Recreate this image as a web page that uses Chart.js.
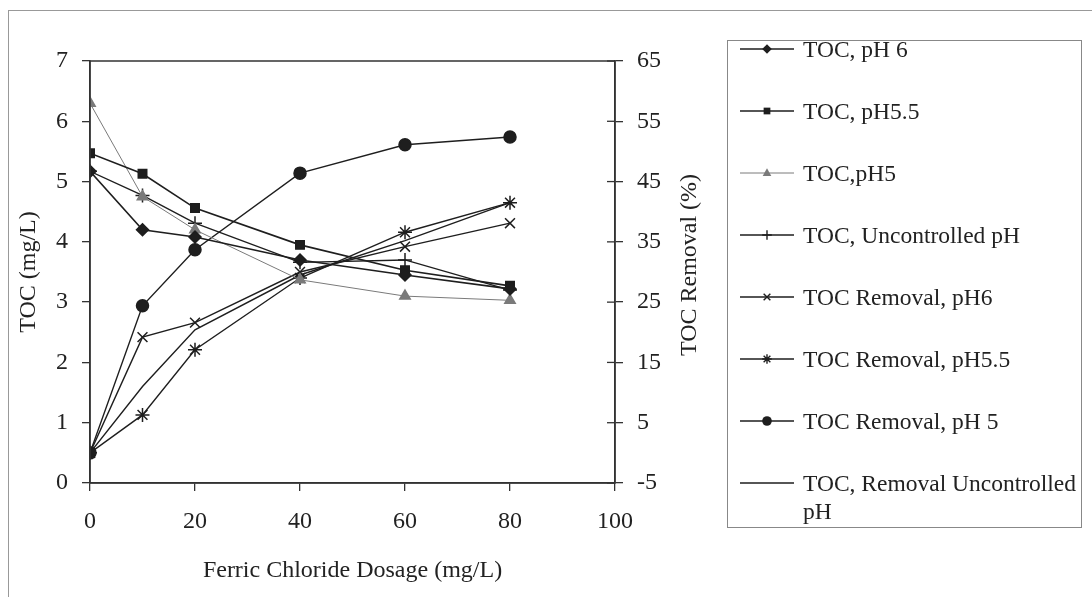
<!DOCTYPE html>
<html>
<head>
<meta charset="utf-8">
<script src="https://cdn.jsdelivr.net/npm/chart.js@4.4.1/dist/chart.umd.min.js"></script>
<style>
  html, body { margin: 0; padding: 0; background: #fff; }
  body { width: 1092px; height: 597px; position: relative; overflow: hidden; font-family: "Liberation Serif", "Times New Roman", serif; }
  #frame { position: absolute; left: 8px; top: 10px; width: 1100px; height: 600px; border-left: 1px solid #999; border-top: 1px solid #999; }
  #wrap { position: absolute; left: 0; top: 0; width: 715px; height: 597px; }
  #legend { position: absolute; left: 727px; top: 40px; width: 355px; height: 488px; border: 1px solid #888; box-sizing: border-box; }
  .item { display: flex; align-items: flex-start; height: 62px; }
  .item canvas { margin-left: 10px; margin-top: -4px; flex: none; }
  .item span { font-size: 23.5px; color: #222; line-height: 28px; margin-left: 7px; margin-top: -6px; max-width: 276px; }
</style>
</head>
<body>
<div id="frame"></div>
<div id="wrap"><canvas id="chart" width="715" height="597"></canvas></div>
<div id="legend"></div>
<script>
document.addEventListener('DOMContentLoaded', function() {

    // values
    const dosage = [0, 10, 20, 40, 60, 80];
    const tocPH6 = [5.17, 4.2, 4.08, 3.7, 3.45, 3.22];
    const tocPH55 = [5.47, 5.13, 4.56, 3.95, 3.53, 3.27];
    const tocPH5 = [6.3, 4.75, 4.2, 3.37, 3.1, 3.03];
    const tocUnc = [5.17, 4.77, 4.31, 3.66, 3.7, 3.2];
    const remPH6 = [0, 19.2, 21.6, 30, 34.2, 38.1];
    const remPH55 = [0, 6.3, 17.1, 29, 36.6, 41.5];
    const remPH5 = [0, 24.4, 33.7, 46.4, 51.1, 52.4];
    const remUnc = [0, 11, 20.4, 29.5, 35.2, 41.5];

    const ink = '#1e1e1e';
    const grey = '#7a7a7a';
    const serif = 'Liberation Serif';

    function pts(arr) {
        return arr.map((v, i) => ({ x: dosage[i], y: v }));
    }

    function series(label, arr, axis, style, radius, color, width) {
        return {
            label: label,
            data: pts(arr),
            yAxisID: axis,
            borderColor: color,
            backgroundColor: color,
            borderWidth: width,
            pointStyle: style,
            pointRadius: radius,
            pointHoverRadius: radius,
            pointBorderColor: color,
            pointBackgroundColor: color,
            pointBorderWidth: 1.5,
            tension: 0
        };
    }

    const datasets = [
        series('TOC, pH 6', tocPH6, 'y', 'rectRot', 6, ink, 1.6),
        series('TOC, pH5.5', tocPH55, 'y', 'rect', 6, ink, 1.6),
        series('TOC,pH5', tocPH5, 'y', 'triangle', 6, grey, 1),
        series('TOC, Uncontrolled pH', tocUnc, 'y', 'cross', 7, ink, 1.4),
        series('TOC Removal, pH6', remPH6, 'y1', 'crossRot', 7, ink, 1.4),
        series('TOC Removal, pH5.5', remPH55, 'y1', 'star', 7, ink, 1.4),
        series('TOC Removal, pH 5', remPH5, 'y1', 'circle', 6, ink, 1.4),
        series('TOC, Removal Uncontrolled pH', remUnc, 'y1', 'circle', 0, ink, 1.4)
    ];

    const tickFont = { family: serif, size: 24 };
    const titleFont = { family: serif, size: 24 };
    const axisGrid = { drawOnChartArea: false, drawTicks: true, tickLength: 8, color: '#333', lineWidth: 1.3 };
    const axisBorder = { color: '#333', width: 1.5 };

    // box round the plot area, inner ticks on the right axis, right-hand axis title
    const framePlugin = {
        id: 'framePlugin',
        afterDraw(chart) {
            const a = chart.chartArea;
            const ctx = chart.ctx;
            const y1 = chart.scales.y1;
            ctx.save();
            ctx.strokeStyle = '#333';
            ctx.lineWidth = 1.5;
            ctx.strokeRect(a.left, a.top, a.right - a.left, a.bottom - a.top);
            ctx.lineWidth = 1.3;
            y1.ticks.forEach(function(t) {
                const py = y1.getPixelForValue(t.value);
                ctx.beginPath(); ctx.moveTo(a.right - 8, py); ctx.lineTo(a.right, py); ctx.stroke();
            });
            ctx.translate(690, 265);
            ctx.rotate(-Math.PI / 2);
            ctx.fillStyle = '#222';
            ctx.font = '24px "' + serif + '"';
            ctx.textAlign = 'center';
            ctx.textBaseline = 'middle';
            ctx.fillText('TOC Removal (%)', 0, 0);
            ctx.restore();
        }
    };

    const chart = new Chart(document.getElementById('chart').getContext('2d'), {
        type: 'line',
        data: { datasets: datasets },
        options: {
            responsive: false,
            animation: false,
            layout: { padding: { left: 8, top: 61, right: 0, bottom: 0 } },
            plugins: { legend: { display: false }, tooltip: { enabled: false } },
            scales: {
                x: {
                    type: 'linear', min: 0, max: 100,
                    ticks: { stepSize: 20, font: tickFont, color: '#222', padding: 16 },
                    grid: axisGrid, border: axisBorder,
                    title: { display: true, text: 'Ferric Chloride Dosage (mg/L)', font: titleFont, color: '#222', padding: { top: 0, bottom: 12 } },
                    afterFit(s) { s.height = 114; }
                },
                y: {
                    position: 'left', min: 0, max: 7,
                    ticks: { stepSize: 1, font: tickFont, color: '#222', padding: 14 },
                    grid: axisGrid, border: axisBorder,
                    title: { display: true, text: 'TOC (mg/L)', font: titleFont, color: '#222', padding: { top: 6, bottom: 0 } },
                    afterFit(s) { s.width = 82; }
                },
                y1: {
                    position: 'right', min: -5, max: 65,
                    ticks: { stepSize: 10, font: tickFont, color: '#222', padding: 14 },
                    grid: axisGrid, border: axisBorder,
                    afterFit(s) { s.width = 100; }
                }
            }
        },
        plugins: [framePlugin]
    });

    // legend samples: line with the marker in the middle
    function drawMarker(ctx, style, r, x, y) {
        ctx.beginPath();
        if (style === 'rectRot') {
            ctx.moveTo(x, y - r); ctx.lineTo(x + r, y); ctx.lineTo(x, y + r); ctx.lineTo(x - r, y); ctx.closePath(); ctx.fill();
        } else if (style === 'rect') {
            ctx.fillRect(x - r * 0.7, y - r * 0.7, r * 1.4, r * 1.4);
        } else if (style === 'triangle') {
            ctx.moveTo(x, y - r); ctx.lineTo(x + r * 0.9, y + r * 0.6); ctx.lineTo(x - r * 0.9, y + r * 0.6); ctx.closePath(); ctx.fill();
        } else if (style === 'cross') {
            ctx.moveTo(x, y - r); ctx.lineTo(x, y + r); ctx.moveTo(x - r, y); ctx.lineTo(x + r, y); ctx.stroke();
        } else if (style === 'crossRot') {
            const d = r * 0.7;
            ctx.moveTo(x - d, y - d); ctx.lineTo(x + d, y + d); ctx.moveTo(x + d, y - d); ctx.lineTo(x - d, y + d); ctx.stroke();
        } else if (style === 'star') {
            const d = r * 0.7;
            ctx.moveTo(x, y - r); ctx.lineTo(x, y + r); ctx.moveTo(x - r, y); ctx.lineTo(x + r, y);
            ctx.moveTo(x - d, y - d); ctx.lineTo(x + d, y + d); ctx.moveTo(x + d, y - d); ctx.lineTo(x - d, y + d); ctx.stroke();
        } else if (style === 'circle' && r > 0) {
            ctx.arc(x, y, r, 0, Math.PI * 2); ctx.fill();
        }
    }

    const legend = document.getElementById('legend');
    chart.data.datasets.forEach(function(ds) {
        const item = document.createElement('div');
        item.className = 'item';
        const c = document.createElement('canvas');
        c.width = 58; c.height = 24;
        const ctx = c.getContext('2d');
        ctx.strokeStyle = ds.borderColor;
        ctx.fillStyle = ds.borderColor;
        ctx.lineWidth = ds.borderWidth;
        ctx.beginPath(); ctx.moveTo(2, 12); ctx.lineTo(56, 12); ctx.stroke();
        ctx.lineWidth = 1.4;
        drawMarker(ctx, ds.pointStyle, Math.min(ds.pointRadius, 6) * 0.8, 29, 12);
        const t = document.createElement('span');
        t.textContent = ds.label;
        item.appendChild(c);
        item.appendChild(t);
        legend.appendChild(item);
    });
});
</script>
</body>
</html>
